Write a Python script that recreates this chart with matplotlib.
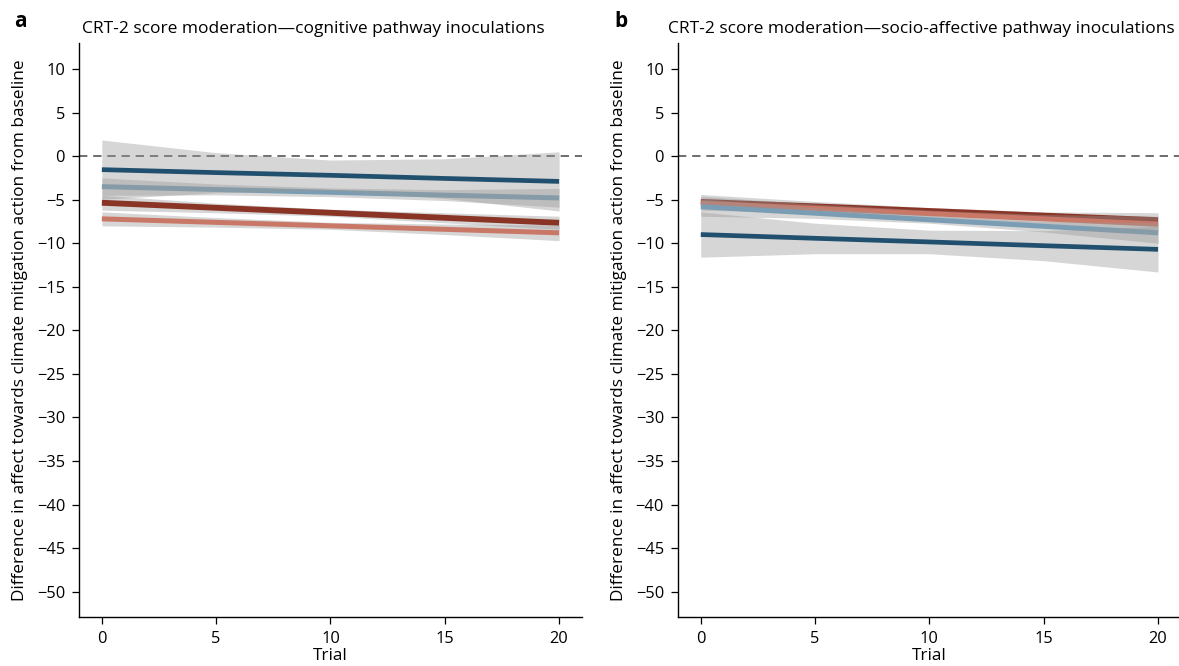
import numpy as np
import matplotlib.pyplot as plt

plt.rcParams['font.family'] = ['Open Sans', 'DejaVu Sans']

# trial positions where values were read
trial = [0, 5, 10, 15, 20]

# panel a - cognitive pathway inoculations
a_dblue = [-1.55, -1.89, -2.2, -2.56, -2.9]
a_dblue_hi = [1.85, 0.4, -0.45, -0.3, 0.5]
a_dblue_lo = [-4.95, -4.2, -3.95, -4.85, -6.3]
a_lblue = [-3.5, -3.83, -4.15, -4.48, -4.8]
a_lblue_hi = [-2.5, -3.2, -3.65, -3.85, -3.7]
a_lblue_lo = [-4.5, -4.45, -4.65, -5.1, -5.85]
a_dred = [-5.35, -5.93, -6.5, -7.08, -7.65]
a_dred_hi = [-4.5, -5.4, -6.1, -6.5, -6.9]
a_dred_lo = [-6.2, -6.5, -6.9, -7.65, -8.4]
a_lred = [-7.2, -7.6, -8.0, -8.4, -8.8]
a_lred_hi = [-6.4, -7.05, -7.6, -7.8, -7.9]
a_lred_lo = [-8.0, -8.15, -8.4, -9.0, -9.7]

# panel b - socio-affective pathway inoculations
b_dblue = [-9.0, -9.43, -9.85, -10.28, -10.7]
b_dblue_hi = [-6.4, -7.7, -8.5, -8.55, -8.05]
b_dblue_lo = [-11.6, -11.2, -11.2, -12.0, -13.3]
b_lblue = [-5.8, -6.55, -7.3, -8.05, -8.8]
b_lblue_hi = [-4.9, -5.9, -6.8, -7.5, -7.6]
b_lblue_lo = [-6.9, -7.15, -7.7, -8.7, -10.0]
b_dred = [-5.2, -5.72, -6.25, -6.78, -7.3]
b_dred_hi = [-4.4, -5.2, -5.9, -6.4, -6.5]
b_dred_lo = [-6.0, -6.3, -6.65, -7.3, -8.1]
b_lred = [-5.4, -6.0, -6.6, -7.2, -7.8]
b_lred_hi = [-4.6, -5.5, -6.2, -6.7, -6.9]
b_lred_lo = [-6.2, -6.5, -7.0, -7.8, -8.7]

titles = ['CRT-2 score moderation\u2014cognitive pathway inoculations',
          'CRT-2 score moderation\u2014socio-affective pathway inoculations']
ylab = 'Difference in affect towards climate mitigation action from baseline'

c_dred = '#8a3426'
c_lred = '#c97767'
c_lblue = '#7b9db3'
c_dblue = '#21506f'

fig = plt.figure(figsize=(11.79, 6.66), dpi=100)
ax1 = fig.add_axes([0.067, 0.0736, 0.4266, 0.862])
ax2 = fig.add_axes([0.575, 0.0736, 0.4266, 0.862])

panels = [
    (ax1, [(a_dred, a_dred_hi, a_dred_lo, c_dred, 4.2),
           (a_lred, a_lred_hi, a_lred_lo, c_lred, 3.6),
           (a_lblue, a_lblue_hi, a_lblue_lo, c_lblue, 3.6),
           (a_dblue, a_dblue_hi, a_dblue_lo, c_dblue, 3.4)]),
    (ax2, [(b_dred, b_dred_hi, b_dred_lo, c_dred, 3.6),
           (b_lred, b_lred_hi, b_lred_lo, c_lred, 3.6),
           (b_lblue, b_lblue_hi, b_lblue_lo, c_lblue, 3.6),
           (b_dblue, b_dblue_hi, b_dblue_lo, c_dblue, 3.4)]),
]
title_x = [0.006, -0.02]

for i, (ax, series) in enumerate(panels):
    ax.axhline(0, color='#555555', lw=1.2, dashes=[5, 3.5], zorder=1)
    for k, (y, hi, lo, c, w) in enumerate(series):
        ax.fill_between(trial, lo, hi, color='0.6', alpha=0.4, lw=0, zorder=2 + k)
        ax.plot(trial, y, color=c, lw=w, solid_capstyle='butt', zorder=2 + k)
    ax.set_xlim(-1, 21)
    ax.set_ylim(-52.9, 13)
    ax.set_xticks([0, 5, 10, 15, 20])
    ax.set_yticks(np.arange(-50, 11, 5))
    ax.set_yticklabels([str(v).replace('-', '\u2212') for v in range(-50, 11, 5)])
    ax.spines['top'].set_visible(False)
    ax.spines['right'].set_visible(False)
    for s in ['left', 'bottom']:
        ax.spines[s].set_linewidth(1.0)
    ax.tick_params(length=5, width=0.9, labelsize=11.8, pad=5)
    ax.set_xlabel('Trial', fontsize=12.3, labelpad=1)
    ax.set_ylabel(ylab, fontsize=12.4)
    ax.yaxis.set_label_coords(-0.102, 0.5)
    ax.set_title(titles[i], loc='left', fontsize=12.5, pad=7, x=title_x[i])

fig.text(0.012, 0.968, 'a', fontsize=15, fontweight='bold', va='center')
fig.text(0.521, 0.968, 'b', fontsize=15, fontweight='bold', va='center')

plt.savefig('out.png', dpi=100)
